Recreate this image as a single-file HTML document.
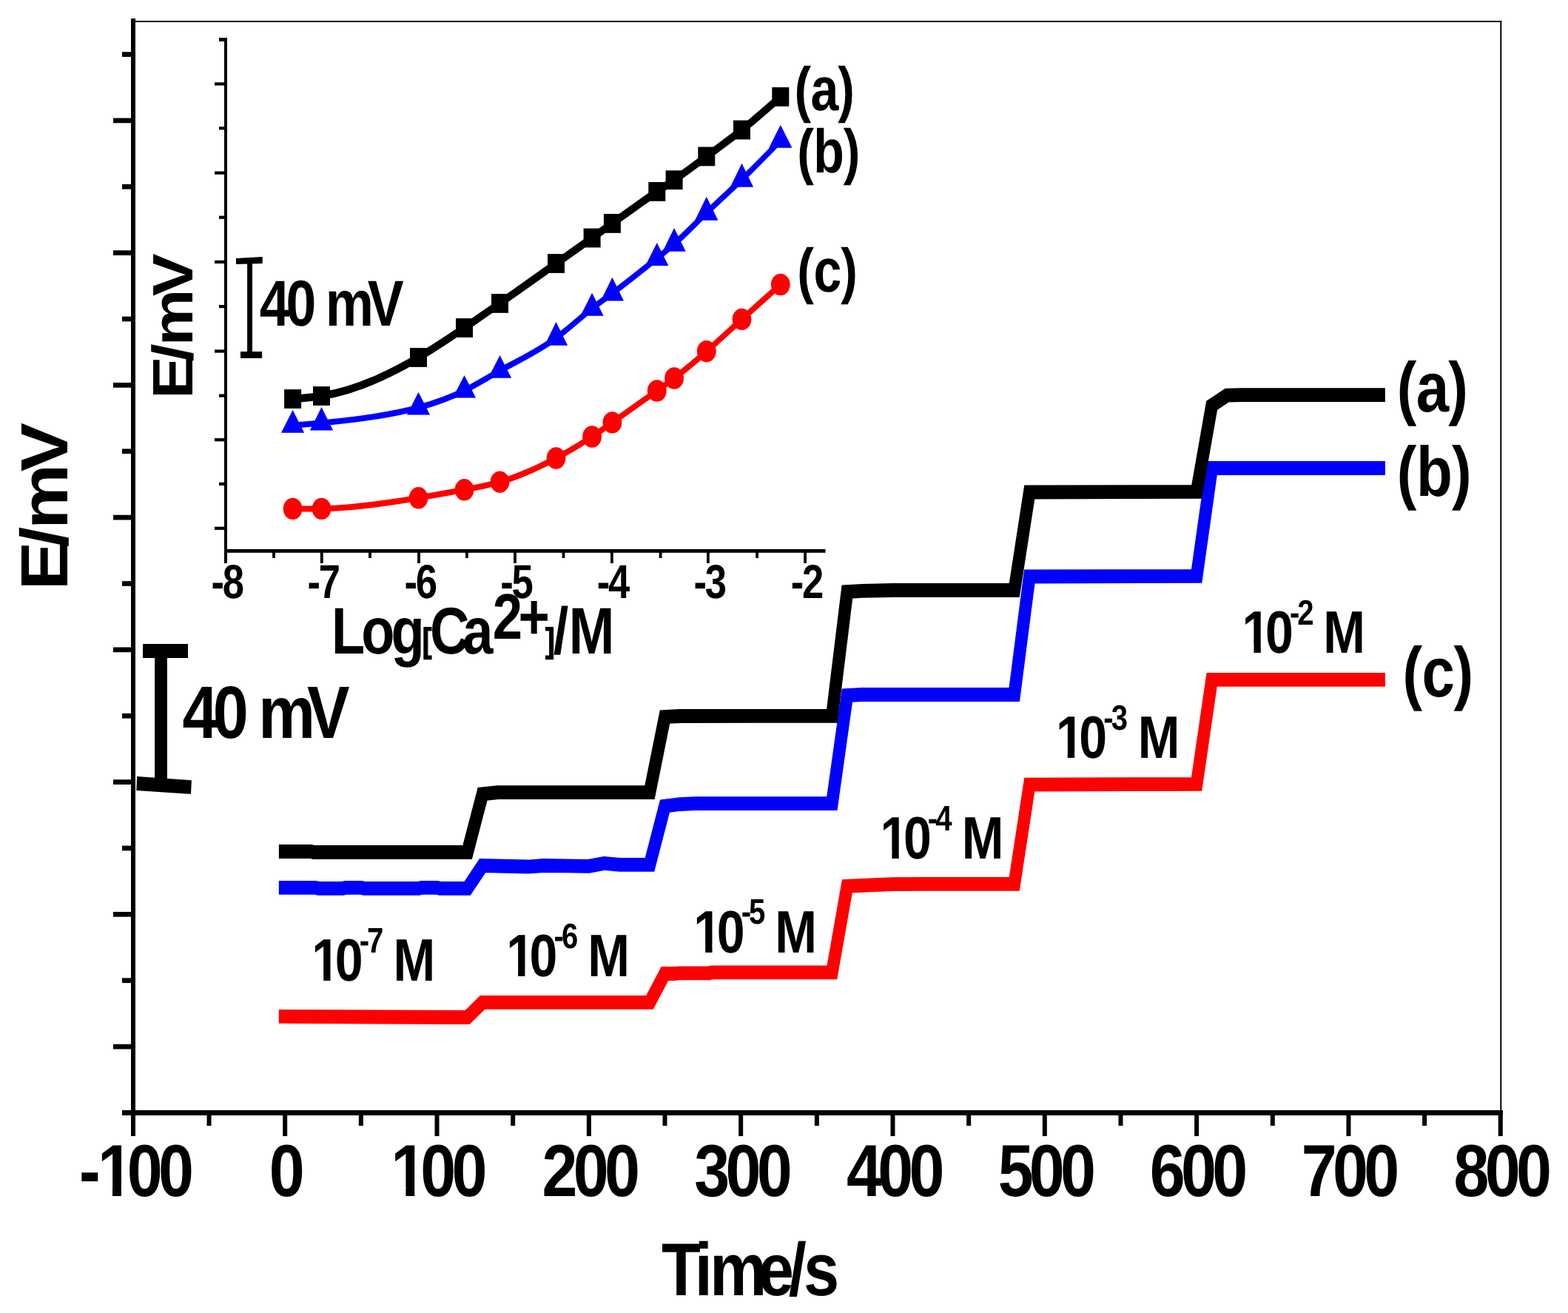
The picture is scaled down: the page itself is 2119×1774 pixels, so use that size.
<!DOCTYPE html>
<html lang="en">
<head>
<meta charset="utf-8">
<title>Potentiometric response: E/mV vs Time/s</title>
<style>
html,body{margin:0;padding:0;background:#fff;}
body{width:2119px;height:1774px;overflow:hidden;}
svg{display:block;}
svg text{white-space:pre;}
</style>
</head>
<body>
<svg width="2119" height="1774" viewBox="0 0 2119 1774" font-family="'Liberation Sans', Arial, Helvetica, sans-serif" font-weight="bold" text-rendering="geometricPrecision">
<rect width="2119" height="1774" fill="#fff"/>
<g id="frame">
<rect x="180" y="28" width="1849.3" height="2" fill="#000"/>
<rect x="2027.3" y="28" width="2" height="1475" fill="#000"/>
<rect x="177" y="25" width="6" height="1510" fill="#000"/>
<rect x="165" y="1500" width="1866" height="7" fill="#000"/>
</g>
<g id="yticks">
<rect x="165" y="70.15" width="15" height="6.7" fill="#000"/>
<rect x="153" y="159.53" width="27" height="6.7" fill="#000"/>
<rect x="165" y="248.9" width="15" height="6.7" fill="#000"/>
<rect x="153" y="338.27" width="27" height="6.7" fill="#000"/>
<rect x="165" y="427.65" width="15" height="6.7" fill="#000"/>
<rect x="153" y="517.02" width="27" height="6.7" fill="#000"/>
<rect x="165" y="606.4" width="15" height="6.7" fill="#000"/>
<rect x="153" y="695.77" width="27" height="6.7" fill="#000"/>
<rect x="165" y="785.15" width="15" height="6.7" fill="#000"/>
<rect x="153" y="874.52" width="27" height="6.7" fill="#000"/>
<rect x="165" y="963.9" width="15" height="6.7" fill="#000"/>
<rect x="153" y="1053.28" width="27" height="6.7" fill="#000"/>
<rect x="165" y="1142.65" width="15" height="6.7" fill="#000"/>
<rect x="153" y="1232.03" width="27" height="6.7" fill="#000"/>
<rect x="165" y="1321.4" width="15" height="6.7" fill="#000"/>
<rect x="153" y="1410.78" width="27" height="6.7" fill="#000"/>
</g>
<g id="xticks">
<rect x="279.54" y="1503" width="6" height="18" fill="#000"/>
<rect x="382.2" y="1503" width="6" height="32" fill="#000"/>
<rect x="484.86" y="1503" width="6" height="18" fill="#000"/>
<rect x="587.52" y="1503" width="6" height="32" fill="#000"/>
<rect x="690.19" y="1503" width="6" height="18" fill="#000"/>
<rect x="792.85" y="1503" width="6" height="32" fill="#000"/>
<rect x="895.51" y="1503" width="6" height="18" fill="#000"/>
<rect x="998.17" y="1503" width="6" height="32" fill="#000"/>
<rect x="1100.84" y="1503" width="6" height="18" fill="#000"/>
<rect x="1203.5" y="1503" width="6" height="32" fill="#000"/>
<rect x="1306.16" y="1503" width="6" height="18" fill="#000"/>
<rect x="1408.83" y="1503" width="6" height="32" fill="#000"/>
<rect x="1511.49" y="1503" width="6" height="18" fill="#000"/>
<rect x="1614.15" y="1503" width="6" height="32" fill="#000"/>
<rect x="1716.81" y="1503" width="6" height="18" fill="#000"/>
<rect x="1819.47" y="1503" width="6" height="32" fill="#000"/>
<rect x="1922.14" y="1503" width="6" height="18" fill="#000"/>
<rect x="2024.8" y="1503" width="6" height="32" fill="#000"/>
</g>
<g id="inset-axes">
<rect x="303" y="51" width="4" height="710" fill="#000"/>
<rect x="303" y="742" width="812.5" height="4.8" fill="#000"/>
<rect x="296" y="51" width="9" height="5" fill="#000"/>
<rect x="290" y="111.3" width="15" height="4.2" fill="#000"/>
<rect x="296" y="171.1" width="9" height="4.2" fill="#000"/>
<rect x="290" y="231.5" width="15" height="4.2" fill="#000"/>
<rect x="296" y="291.6" width="9" height="4.2" fill="#000"/>
<rect x="290" y="351.8" width="15" height="4.2" fill="#000"/>
<rect x="296" y="412" width="9" height="4.2" fill="#000"/>
<rect x="290" y="472.4" width="15" height="4.2" fill="#000"/>
<rect x="296" y="532.5" width="9" height="4.2" fill="#000"/>
<rect x="290" y="592.1" width="15" height="4.2" fill="#000"/>
<rect x="296" y="651.7" width="9" height="4.2" fill="#000"/>
<rect x="290" y="711.7" width="15" height="4.2" fill="#000"/>
<rect x="368.1" y="744" width="3.8" height="10" fill="#000"/>
<rect x="432.9" y="744" width="3.8" height="17" fill="#000"/>
<rect x="498.1" y="744" width="3.8" height="10" fill="#000"/>
<rect x="564.1" y="744" width="3.8" height="17" fill="#000"/>
<rect x="629" y="744" width="3.8" height="10" fill="#000"/>
<rect x="694.1" y="744" width="3.8" height="17" fill="#000"/>
<rect x="759.6" y="744" width="3.8" height="10" fill="#000"/>
<rect x="825" y="744" width="3.8" height="17" fill="#000"/>
<rect x="890.7" y="744" width="3.8" height="10" fill="#000"/>
<rect x="955" y="744" width="3.8" height="17" fill="#000"/>
<rect x="1021.2" y="744" width="3.8" height="10" fill="#000"/>
<rect x="1086.2" y="744" width="3.8" height="17" fill="#000"/>
</g>
<g id="curves" transform="scale(1 1.125)">
<polyline points="385.2,1220.89 631.59,1221.78 652.12,1203.91 877.98,1203.91 898.51,1169.33 912.89,1169.33 916.99,1168.71 958.06,1168.71 962.16,1167.91 1124.37,1167.91 1144.9,1064.27 1165.43,1063.47 1206.5,1061.96 1247.56,1061.6 1370.76,1061.6 1391.29,942.22 1617.15,941.6 1637.68,816.27 1863.54,816.27" fill="none" stroke="#f00" stroke-width="16.7" stroke-linecap="square" stroke-linejoin="miter" stroke-miterlimit="10"/>
<polyline points="385.2,1066.04 426.26,1066.04 430.37,1066.93 463.22,1066.93 467.33,1066.04 487.86,1066.04 491.97,1066.93 565.89,1066.93 569.99,1066.04 590.52,1066.04 594.63,1066.93 631.59,1066.93 652.12,1039.56 713.72,1040.89 734.25,1039.56 795.85,1040.27 816.38,1036.89 836.91,1038.49 877.98,1038.49 898.51,968.18 919.04,965.78 939.58,965.07 1124.37,965.07 1144.9,835.11 1165.43,834.22 1370.76,834.22 1391.29,692.44 1617.15,691.82 1637.68,562.22 1863.54,562.22" fill="none" stroke="#00f" stroke-width="16.7" stroke-linecap="square" stroke-linejoin="miter" stroke-miterlimit="10"/>
<polyline points="385.2,1022.67 420.11,1022.67 424.21,1023.56 631.59,1023.56 652.12,953.6 672.65,951.64 877.98,951.64 898.51,860.89 919.04,860 1124.37,859.82 1144.9,710.67 1165.43,709.69 1206.5,708.89 1370.76,708.89 1391.29,591.11 1617.15,590.58 1637.68,486.93 1658.21,474.84 1678.75,474.31 1863.54,474.31" fill="none" stroke="#000" stroke-width="16.7" stroke-linecap="square" stroke-linejoin="miter" stroke-miterlimit="10"/>
</g>
<g id="inset-curves" transform="scale(1 1.125)">
<path d="M395.6,611.02 C408.57,611.16 421.53,611.29 434.5,611.02 C478.17,610.11 521.83,604.56 565.5,598.04 C586.17,594.96 606.83,591.66 627.5,588.27 C643.5,585.64 659.5,582.96 675.5,578.84 C700.83,572.33 726.17,562.23 751.5,550.22 C767.7,542.54 783.9,534.09 800.1,524.44 C809.2,519.03 818.3,513.23 827.4,507.47 C847.53,494.71 867.67,482.09 887.8,469.33 C895.57,464.41 903.33,459.47 911.1,454.22 C925.67,444.37 940.23,433.42 954.8,421.96 C970.7,409.44 986.6,396.33 1002.5,383.47 C1019.93,369.37 1037.37,355.57 1054.8,341.78" fill="none" stroke="#f00" stroke-width="7.2" stroke-linecap="butt" stroke-linejoin="round"/>
<path d="M395.6,510.97 C408.57,509.99 421.53,509.02 434.5,507.96 C478.17,504.4 521.83,499.95 565.5,489.55 C586.17,484.63 606.83,478.38 627.5,469.16 C643.5,462.03 659.5,453.12 675.5,445.19 C700.83,432.65 726.17,422.57 751.5,405.89 C767.7,395.22 783.9,381.85 800.1,370.47 C809.2,364.08 818.3,358.31 827.4,352.32 C847.53,339.05 867.67,324.67 887.8,310.26 C895.57,304.7 903.33,299.15 911.1,293.03 C925.67,281.55 940.23,268.11 954.8,255.55 C970.7,241.84 986.6,229.18 1002.5,215.61 C1019.93,200.73 1037.37,184.76 1054.8,168.78" fill="none" stroke="#00f" stroke-width="7.2" stroke-linecap="butt" stroke-linejoin="round"/>
<path d="M395.6,479.11 C408.57,478.25 421.53,477.38 434.5,475.56 C478.17,469.4 521.83,452.32 565.5,429.33 C586.17,418.45 606.83,406.25 627.5,393.78 C643.5,384.13 659.5,374.32 675.5,364.36 C700.83,348.59 726.17,332.44 751.5,316.44 C767.7,306.22 783.9,296.05 800.1,285.78 C809.2,280.01 818.3,274.2 827.4,268.36 C847.53,255.42 867.67,242.25 887.8,230.13 C895.57,225.46 903.33,220.94 911.1,216.18 C925.67,207.25 940.23,197.48 954.8,187.91 C970.7,177.47 986.6,167.28 1002.5,156 C1019.93,143.63 1037.37,129.95 1054.8,116.27" fill="none" stroke="#000" stroke-width="9.3" stroke-linecap="butt" stroke-linejoin="round"/>
</g>
<g id="markers">
<ellipse cx="395.6" cy="687.4" rx="12.9" ry="14.7" fill="#f00"/>
<ellipse cx="434.5" cy="687.4" rx="12.9" ry="14.7" fill="#f00"/>
<ellipse cx="565.5" cy="672.8" rx="12.9" ry="14.7" fill="#f00"/>
<ellipse cx="627.5" cy="661.8" rx="12.9" ry="14.7" fill="#f00"/>
<ellipse cx="675.5" cy="651.2" rx="12.9" ry="14.7" fill="#f00"/>
<ellipse cx="751.5" cy="619" rx="12.9" ry="14.7" fill="#f00"/>
<ellipse cx="800.1" cy="590" rx="12.9" ry="14.7" fill="#f00"/>
<ellipse cx="827.4" cy="570.9" rx="12.9" ry="14.7" fill="#f00"/>
<ellipse cx="887.8" cy="528" rx="12.9" ry="14.7" fill="#f00"/>
<ellipse cx="911.1" cy="511" rx="12.9" ry="14.7" fill="#f00"/>
<ellipse cx="954.8" cy="474.7" rx="12.9" ry="14.7" fill="#f00"/>
<ellipse cx="1002.5" cy="431.4" rx="12.9" ry="14.7" fill="#f00"/>
<ellipse cx="1054.8" cy="384.5" rx="12.9" ry="14.7" fill="#f00"/>
<polygon points="395.6,553.9 411.2,584.7 380,584.7" fill="#00f"/>
<polygon points="434.5,549.9 450.1,581.6 418.9,581.6" fill="#00f"/>
<polygon points="565.5,529.8 581.1,560.6 549.9,560.6" fill="#00f"/>
<polygon points="627.5,507 643.1,537.6 611.9,537.6" fill="#00f"/>
<polygon points="675.5,479.9 691.1,510.7 659.9,510.7" fill="#00f"/>
<polygon points="751.5,435 767.1,466.8 735.9,466.8" fill="#00f"/>
<polygon points="800.1,395.7 815.7,426.7 784.5,426.7" fill="#00f"/>
<polygon points="827.4,374.8 843,406.5 811.8,406.5" fill="#00f"/>
<polygon points="887.8,328.1 903.4,358.9 872.2,358.9" fill="#00f"/>
<polygon points="911.1,308.1 926.7,339.8 895.5,339.8" fill="#00f"/>
<polygon points="954.8,265.8 970.4,297.7 939.2,297.7" fill="#00f"/>
<polygon points="1002.5,220.8 1018.1,252.8 986.9,252.8" fill="#00f"/>
<polygon points="1054.8,168.8 1070.4,199.8 1039.2,199.8" fill="#00f"/>
<rect x="384.1" y="526.1" width="23" height="25.8" fill="#000"/>
<rect x="423" y="522.1" width="23" height="25.8" fill="#000"/>
<rect x="554" y="470.1" width="23" height="25.8" fill="#000"/>
<rect x="616" y="430.1" width="23" height="25.8" fill="#000"/>
<rect x="664" y="397" width="23" height="25.8" fill="#000"/>
<rect x="740" y="343.1" width="23" height="25.8" fill="#000"/>
<rect x="788.6" y="308.6" width="23" height="25.8" fill="#000"/>
<rect x="815.9" y="289" width="23" height="25.8" fill="#000"/>
<rect x="876.3" y="246" width="23" height="25.8" fill="#000"/>
<rect x="899.6" y="230.3" width="23" height="25.8" fill="#000"/>
<rect x="943.3" y="198.5" width="23" height="25.8" fill="#000"/>
<rect x="991" y="162.6" width="23" height="25.8" fill="#000"/>
<rect x="1043.3" y="117.9" width="23" height="25.8" fill="#000"/>
</g>
<g id="scalebars">
<rect x="193" y="870" width="61" height="19" fill="#000"/>
<rect x="209.1" y="880" width="16.8" height="180" fill="#000"/>
<polygon points="185.1,1049.1 258.9,1054.3 258,1072.8 184.3,1068" fill="#000"/>
<polygon points="319,349 354.7,347 354.7,355.9 319,356.9" fill="#000"/>
<rect x="334.1" y="352" width="6.9" height="128" fill="#000"/>
<rect x="325" y="475" width="29.1" height="9" fill="#000"/>
</g>
<g id="labels">
<clipPath id="k1"><path clip-rule="evenodd" d="M-99.7,-159.52H323.01V59.82H-99.7ZM32.73,-11.67H52.01V3H32.73ZM65.69,-11.67H82.91V3H65.69Z"/></clipPath>
<text transform="translate(107.01 1616) scale(0.8656 1)" fill="#000" clip-path="url(#k1)" font-size="99.7" x="0 28.74 74.85 123.61" y="0">-100</text>
<text transform="translate(363.87 1616) scale(0.8656 1)" fill="#000" font-size="99.7" x="0" y="0">0</text>
<clipPath id="k2"><path clip-rule="evenodd" d="M-99.7,-159.52H294.28V59.82H-99.7ZM3.99,-11.67H23.27V3H3.99ZM36.95,-11.67H54.18V3H36.95Z"/></clipPath>
<text transform="translate(528.27 1616) scale(0.8656 1)" fill="#000" clip-path="url(#k2)" font-size="99.7" x="0 46.11 94.88" y="0">100</text>
<text transform="translate(732.51 1616) scale(0.8656 1)" fill="#000" font-size="99.7" x="0 48.77 97.53" y="0">200</text>
<text transform="translate(938.34 1616) scale(0.8656 1)" fill="#000" font-size="99.7" x="0 48.77 97.53" y="0">300</text>
<text transform="translate(1144.01 1616) scale(0.8656 1)" fill="#000" font-size="99.7" x="0 48.77 97.53" y="0">400</text>
<text transform="translate(1348.66 1616) scale(0.8656 1)" fill="#000" font-size="99.7" x="0 48.77 97.53" y="0">500</text>
<text transform="translate(1553.73 1616) scale(0.8656 1)" fill="#000" font-size="99.7" x="0 48.77 97.53" y="0">600</text>
<text transform="translate(1758.78 1616) scale(0.8656 1)" fill="#000" font-size="99.7" x="0 48.77 97.53" y="0">700</text>
<text transform="translate(1964.59 1616) scale(0.8656 1)" fill="#000" font-size="99.7" x="0 48.77 97.53" y="0">800</text>
<text transform="translate(893.93 1749.7) scale(0.8574 1)" fill="#000" font-size="101" x="0 52.41 76.26 152.55 200.27 224.11" y="0">Time/s</text>
<text transform="translate(246.59 997) scale(0.8613 1)" fill="#000" font-size="100.2" x="0 47.69 95.38 119.2 195.45" y="0">40 mV</text>
<text transform="translate(1887.82 556) scale(0.8403 1)" fill="#000" font-size="95.2" x="0 30.99 82.74" y="0">(a)</text>
<text transform="translate(1887.82 669.6) scale(0.8403 1)" fill="#000" font-size="95.2" x="0 31.17 88.33" y="0">(b)</text>
<text transform="translate(1895.62 940.9) scale(0.8403 1)" fill="#000" font-size="95.2" x="0 30.72 82.02" y="0">(c)</text>
<text transform="translate(91 791) rotate(-90) scale(1.1000 1)" font-size="90.1" x="-6.03 46.98 69.06 139.72" y="0">E/mV</text>
<clipPath id="k3"><path clip-rule="evenodd" d="M-81,-129.6H293.19V48.6H-81ZM3.24,-9.77H18.91V3H3.24ZM30.02,-9.77H44.34V3H30.02Z"/></clipPath>
<text transform="translate(421.32 1325.4) scale(0.8395 1)" fill="#000" clip-path="url(#k3)"><tspan font-size="81" x="0 37.39" y="0">10</tspan><tspan font-size="47.8" x="76.61 89.03" y="-38.2">-7</tspan><tspan font-size="81" x="111.61 131.19" y="0"> M</tspan></text>
<clipPath id="k4"><path clip-rule="evenodd" d="M-81,-129.6H293.19V48.6H-81ZM3.24,-9.77H18.91V3H3.24ZM30.02,-9.77H44.34V3H30.02Z"/></clipPath>
<text transform="translate(684.22 1319.4) scale(0.8395 1)" fill="#000" clip-path="url(#k4)"><tspan font-size="81" x="0 37.39" y="0">10</tspan><tspan font-size="47.8" x="76.61 89.03" y="-38.2">-6</tspan><tspan font-size="81" x="111.61 131.19" y="0"> M</tspan></text>
<clipPath id="k5"><path clip-rule="evenodd" d="M-81,-129.6H292.95V48.6H-81ZM3.24,-9.77H18.91V3H3.24ZM30.02,-9.77H44.34V3H30.02Z"/></clipPath>
<text transform="translate(937.32 1286.5) scale(0.8395 1)" fill="#000" clip-path="url(#k5)"><tspan font-size="81" x="0 37.39" y="0">10</tspan><tspan font-size="47.8" x="76.61 89.03" y="-38.2">-5</tspan><tspan font-size="81" x="111.37 130.95" y="0"> M</tspan></text>
<clipPath id="k6"><path clip-rule="evenodd" d="M-81,-129.6H293.31V48.6H-81ZM3.24,-9.77H18.91V3H3.24ZM30.02,-9.77H44.34V3H30.02Z"/></clipPath>
<text transform="translate(1189.52 1160.2) scale(0.8395 1)" fill="#000" clip-path="url(#k6)"><tspan font-size="81" x="0 37.39" y="0">10</tspan><tspan font-size="47.8" x="76.61 89.03" y="-38.2">-4</tspan><tspan font-size="81" x="111.73 131.31" y="0"> M</tspan></text>
<clipPath id="k7"><path clip-rule="evenodd" d="M-81,-129.6H293.9V48.6H-81ZM3.24,-9.77H18.91V3H3.24ZM30.02,-9.77H44.34V3H30.02Z"/></clipPath>
<text transform="translate(1426.92 1024.4) scale(0.8395 1)" fill="#000" clip-path="url(#k7)"><tspan font-size="81" x="0 37.39" y="0">10</tspan><tspan font-size="47.8" x="76.61 89.03" y="-38.2">-3</tspan><tspan font-size="81" x="112.33 131.9" y="0"> M</tspan></text>
<clipPath id="k8"><path clip-rule="evenodd" d="M-81,-129.6H292.47V48.6H-81ZM3.24,-9.77H18.91V3H3.24ZM30.02,-9.77H44.34V3H30.02Z"/></clipPath>
<text transform="translate(1678.62 882.3) scale(0.8395 1)" fill="#000" clip-path="url(#k8)"><tspan font-size="81" x="0 37.39" y="0">10</tspan><tspan font-size="47.8" x="76.61 89.03" y="-38.2">-2</tspan><tspan font-size="81" x="110.9 130.47" y="0"> M</tspan></text>
<text transform="translate(285.44 808.3) scale(0.8180 1)" fill="#000" font-size="64.3" x="0 18.63" y="0">-8</text>
<text transform="translate(415.58 808.3) scale(0.8180 1)" fill="#000" font-size="64.3" x="0 18.63" y="0">-7</text>
<text transform="translate(546.58 808.3) scale(0.8180 1)" fill="#000" font-size="64.3" x="0 18.63" y="0">-6</text>
<text transform="translate(676.36 808.3) scale(0.8180 1)" fill="#000" font-size="64.3" x="0 18.63" y="0">-5</text>
<text transform="translate(806.67 808.3) scale(0.8180 1)" fill="#000" font-size="64.3" x="0 18.63" y="0">-4</text>
<text transform="translate(937.48 808.3) scale(0.8180 1)" fill="#000" font-size="64.3" x="0 18.63" y="0">-3</text>
<text transform="translate(1068.78 808.3) scale(0.8180 1)" fill="#000" font-size="64.3" x="0 18.63" y="0">-2</text>
<text transform="translate(447.95 882.6) scale(0.8315 1)" fill="#000"><tspan font-size="89" x="0 48.47 96.94" y="0">Log</tspan><tspan font-size="46" x="147.69" y="-1.7" stroke="#000" stroke-width="1.3">[</tspan><tspan font-size="89" x="160.1 213.15" y="0">Ca</tspan><tspan font-size="87.2" x="261.99 303.74" y="-19.6">2+</tspan><tspan font-size="46" x="347.56" y="-1.7" stroke="#000" stroke-width="1.3">]</tspan><tspan font-size="89" x="360.6 385.78" y="0">/M</tspan></text>
<text transform="translate(350.79 439.9) scale(0.8358 1)" fill="#000" font-size="87.7" x="0 42.6 85.2 106.48 174.59" y="0">40 mV</text>
<text transform="translate(1073.61 148.7) scale(0.8173 1)" fill="#000" font-size="83.2" x="0 26.82 71.61" y="0">(a)</text>
<text transform="translate(1077.31 233.4) scale(0.8173 1)" fill="#000" font-size="83.2" x="0 26.95 76.38" y="0">(b)</text>
<text transform="translate(1077.31 394.3) scale(0.8173 1)" fill="#000" font-size="83.2" x="0 27 72.1" y="0">(c)</text>
<text transform="translate(260 533) rotate(-90) scale(1.1200 1)" font-size="77" x="-5.15 39.94 58.72 118.84" y="0">E/mV</text>
</g>
</svg>
</body>
</html>
